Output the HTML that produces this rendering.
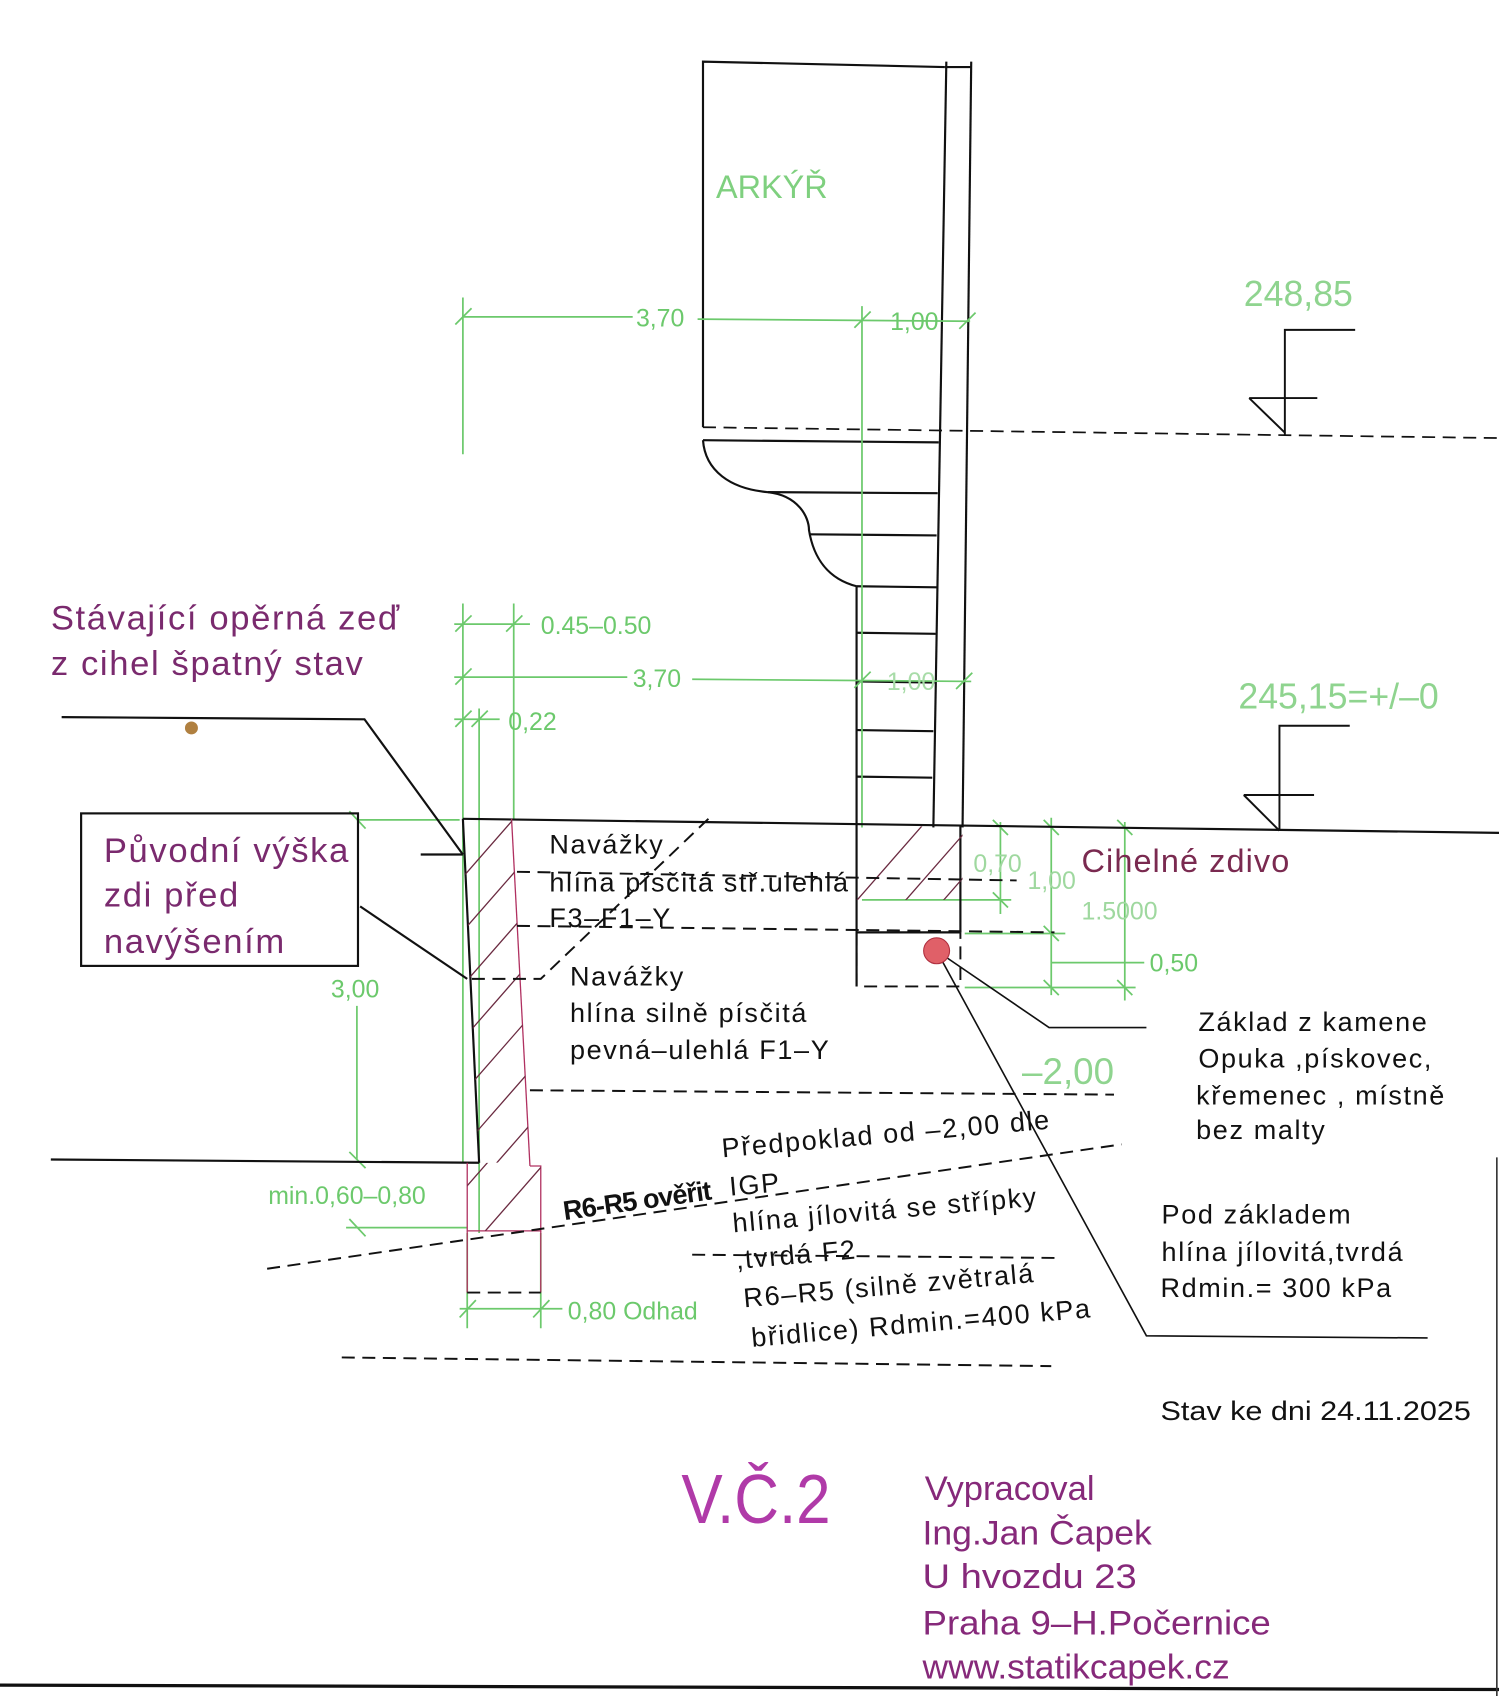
<!DOCTYPE html>
<html><head><meta charset="utf-8"><style>
html,body{margin:0;padding:0;background:#fff;}
svg{display:block;}
text{font-family:"Liberation Sans","DejaVu Sans",sans-serif;}
</style></head><body>
<svg width="1499" height="1696" viewBox="0 0 1386 1568" preserveAspectRatio="none" xmlns="http://www.w3.org/2000/svg">
<defs>
<clipPath id="wall"><polygon points="428,757 473,757 490,1075 443,1075"/></clipPath>
<clipPath id="foot"><polygon points="432,1075 443,1075 490,1075 490,1079 500,1079 500,1138 432,1138"/></clipPath>
<clipPath id="fbox"><rect x="792" y="764" width="98" height="68"/></clipPath>
</defs>
<rect width="1386" height="1568" fill="#fff"/>

<g stroke="#111" stroke-width="2" fill="none">
<polyline points="650,395 650,57 873,62"/>
<line x1="875" y1="57" x2="863" y2="765"/>
<line x1="898" y1="57" x2="890" y2="765"/>
<line x1="873" y1="62" x2="898" y2="62"/>
<line x1="650" y1="407" x2="868" y2="409"/>
<path d="M650,407 C652,435 675,452 710,455 C738,458 748,478 748,490 C752,515 765,535 792,542"/>
<line x1="710" y1="455" x2="867" y2="456"/>
<line x1="748" y1="494" x2="866" y2="495"/>
<line x1="792" y1="542" x2="866" y2="543"/>
<line x1="792" y1="585" x2="865" y2="586"/>
<line x1="792" y1="630" x2="864" y2="631"/>
<line x1="792" y1="675" x2="863" y2="676"/>
<line x1="792" y1="718" x2="862" y2="719"/>
<line x1="792" y1="542" x2="792" y2="912"/>
</g>
<line x1="650" y1="395" x2="1386" y2="405" stroke="#111" stroke-width="1.6" stroke-dasharray="12,7"/>
<text x="662" y="183" font-size="30" fill="#7fd07f">ARKÝŘ</text>

<g stroke="#6cc96c" stroke-width="1.6" fill="none">
<line x1="428" y1="275" x2="428" y2="420"/>
<line x1="428" y1="293" x2="585" y2="293"/>
<line x1="645" y1="295" x2="897" y2="297"/>
<line x1="797" y1="283" x2="797" y2="765"/>
<line x1="421" y1="300" x2="436" y2="285"/><line x1="790" y1="303" x2="805" y2="288"/><line x1="887" y1="304" x2="902" y2="289"/>
<line x1="428" y1="558" x2="428" y2="1075"/>
<line x1="475" y1="558" x2="475" y2="757"/>
<line x1="443" y1="655" x2="443" y2="1140"/>
<line x1="420" y1="577" x2="490" y2="577"/>
<line x1="420" y1="626" x2="580" y2="626"/>
<line x1="640" y1="628" x2="898" y2="630"/>
<line x1="420" y1="665" x2="462" y2="665"/>
<line x1="421" y1="584" x2="436" y2="569"/><line x1="468" y1="584" x2="483" y2="569"/>
<line x1="421" y1="633" x2="436" y2="618"/><line x1="790" y1="636" x2="805" y2="621"/><line x1="884" y1="637" x2="899" y2="622"/>
<line x1="421" y1="672" x2="436" y2="657"/><line x1="436" y1="672" x2="451" y2="657"/>
<line x1="330" y1="758" x2="425" y2="758"/>
<line x1="323" y1="750" x2="338" y2="766"/>
<line x1="330" y1="930" x2="330" y2="1072"/>
<line x1="323" y1="1065" x2="338" y2="1080"/>
<line x1="320" y1="1135" x2="432" y2="1135"/>
<line x1="323" y1="1127" x2="338" y2="1143"/>
<line x1="432" y1="1140" x2="432" y2="1228"/>
<line x1="500" y1="1140" x2="500" y2="1228"/>
<line x1="425" y1="1210" x2="520" y2="1210"/>
<line x1="425" y1="1218" x2="440" y2="1202"/><line x1="493" y1="1218" x2="508" y2="1202"/>
<line x1="925" y1="760" x2="925" y2="845"/>
<line x1="972" y1="756" x2="972" y2="920"/>
<line x1="1040" y1="760" x2="1040" y2="925"/>
<line x1="797" y1="832" x2="935" y2="832"/>
<line x1="892" y1="863" x2="985" y2="863"/>
<line x1="972" y1="890" x2="1058" y2="890"/>
<line x1="892" y1="913" x2="1050" y2="913"/>
<line x1="918" y1="758" x2="932" y2="772"/><line x1="965" y1="758" x2="979" y2="772"/><line x1="1033" y1="758" x2="1047" y2="772"/>
<line x1="918" y1="825" x2="932" y2="839"/><line x1="965" y1="856" x2="979" y2="870"/>
<line x1="965" y1="906" x2="979" y2="920"/><line x1="1033" y1="906" x2="1047" y2="920"/>
</g>
<g fill="#6cc96c">
<text x="588" y="302" font-size="23">3,70</text>
<text x="823" y="305" font-size="23">1,00</text>
<text x="500" y="586" font-size="23">0.45–0.50</text>
<text x="585" y="635" font-size="23">3,70</text>
<text x="820" y="638" font-size="23" fill="#a8dca8">1,00</text>
<text x="470" y="675" font-size="23">0,22</text>
<text x="306" y="922" font-size="23">3,00</text>
<text x="248" y="1113" font-size="23">min.0,60–0,80</text>
<text x="525" y="1220" font-size="23">0,80  Odhad</text>
<text x="900" y="806" font-size="23" fill="#9fd89f">0,70</text>
<text x="950" y="822" font-size="23" fill="#9fd89f">1,00</text>
<text x="1000" y="850" font-size="23" fill="#9fd89f">1.5000</text>
<text x="1063" y="898" font-size="23">0,50</text>
<text x="945" y="1002" font-size="34" fill="#8fd48f">–2,00</text>
<text x="1150" y="283" font-size="33" fill="#8fd48f">248,85</text>
<text x="1145" y="655" font-size="33" fill="#8fd48f">245,15=+/–0</text>
</g>

<g stroke="#111" stroke-width="1.8" fill="none">
<polyline points="1253,305 1188,305 1188,402"/>
<line x1="1155" y1="368" x2="1218" y2="368"/>
<line x1="1155" y1="368" x2="1188" y2="400"/>
<polyline points="1248,671 1183,671 1183,768"/>
<line x1="1150" y1="735" x2="1215" y2="735"/>
<line x1="1150" y1="735" x2="1183" y2="768"/>
</g>

<g stroke="#111" stroke-width="2" fill="none">
<line x1="428" y1="757" x2="1386" y2="770"/>
<line x1="428" y1="757" x2="443" y2="1075"/>
<line x1="47" y1="1072" x2="443" y2="1075"/>
<polyline points="57,663 337,665 428,790"/>
<line x1="389" y1="790" x2="428" y2="790"/>
<polyline points="333,838 432,905"/>
<line x1="888" y1="763" x2="888" y2="862"/>
<line x1="792" y1="862" x2="888" y2="862"/>
</g>
<g stroke="#b03060" stroke-width="1.2" fill="none">
<line x1="473" y1="757" x2="490" y2="1078"/>
<polyline points="490,1078 500,1078 500,1138 432,1138 432,1075"/>
<line x1="432" y1="1138" x2="432" y2="1195"/>
<line x1="500" y1="1138" x2="500" y2="1195"/>
</g>
<g stroke="#6a2a40" stroke-width="1.2" clip-path="url(#wall)">
<line x1="420" y1="820" x2="490" y2="740"/>
<line x1="420" y1="870" x2="490" y2="790"/>
<line x1="420" y1="920" x2="490" y2="840"/>
<line x1="420" y1="970" x2="490" y2="890"/>
<line x1="420" y1="1020" x2="490" y2="940"/>
<line x1="420" y1="1070" x2="490" y2="990"/>
<line x1="420" y1="1120" x2="490" y2="1040"/>
</g>
<g stroke="#6a2a40" stroke-width="1.2" clip-path="url(#foot)">
<line x1="420" y1="1110" x2="490" y2="1030"/>
<line x1="440" y1="1148" x2="510" y2="1068"/>
</g>
<g stroke="#6a2a40" stroke-width="1.2" clip-path="url(#fbox)">
<line x1="790" y1="835" x2="860" y2="755"/>
<line x1="835" y1="835" x2="905" y2="755"/>
<line x1="870" y1="835" x2="940" y2="755"/>
</g>

<g stroke="#111" stroke-width="1.8" fill="none" stroke-dasharray="12,7">
<polyline points="655,757 500,905 432,905"/>
<line x1="478" y1="806" x2="940" y2="814"/>
<line x1="478" y1="856" x2="975" y2="862"/>
<line x1="490" y1="1008" x2="1030" y2="1012"/>
<line x1="247" y1="1173" x2="1037" y2="1058"/>
<line x1="640" y1="1160" x2="975" y2="1163"/>
<line x1="316" y1="1255" x2="972" y2="1263"/>
<line x1="432" y1="1195" x2="500" y2="1195"/>
<polyline points="792,862 792,912 888,912 888,862"/>
</g>

<g stroke="#111" stroke-width="1.5" fill="none">
<polyline points="866,879 970,950 1060,950"/>
<polyline points="866,879 1060,1235 1320,1237"/>
</g>
<circle cx="866" cy="879" r="12" fill="#e06068" stroke="#b03040" stroke-width="1"/>

<g fill="#7a2a6e">
<text x="47" y="582" font-size="32" letter-spacing="1.5">Stávající  opěrná  zeď</text>
<text x="47" y="624" font-size="32" letter-spacing="1.5">z  cihel  špatný  stav</text>
<text x="96" y="797" font-size="32" letter-spacing="1.5">Původní  výška</text>
<text x="96" y="838" font-size="32" letter-spacing="1.5">zdi  před</text>
<text x="96" y="881" font-size="32" letter-spacing="1.5">navýšením</text>
<text x="1000" y="806" font-size="30" letter-spacing="1" fill="#7a2a50">Cihelné  zdivo</text>
<text x="630" y="1408" font-size="64" fill="#b03aa8" textLength="138" lengthAdjust="spacingAndGlyphs">V.Č.2</text>
<g fill="#86297a">
<text x="855" y="1387" font-size="32" textLength="157" lengthAdjust="spacingAndGlyphs">Vypracoval</text>
<text x="853" y="1428" font-size="32" textLength="212" lengthAdjust="spacingAndGlyphs">Ing.Jan  Čapek</text>
<text x="853" y="1468" font-size="32" textLength="198" lengthAdjust="spacingAndGlyphs">U  hvozdu  23</text>
<text x="853" y="1511" font-size="32" textLength="322" lengthAdjust="spacingAndGlyphs">Praha  9–H.Počernice</text>
<text x="853" y="1552" font-size="32" textLength="284" lengthAdjust="spacingAndGlyphs">www.statikcapek.cz</text>
</g>
</g>
<rect x="75" y="752" width="256" height="141" fill="none" stroke="#111" stroke-width="2"/>

<g fill="#111" font-size="25" letter-spacing="1.5">
<text x="508" y="789">Navážky</text>
<text x="508" y="824">hlína  písčitá  stř.ulehlá</text>
<text x="508" y="857">F3–F1–Y</text>
<text x="527" y="911">Navážky</text>
<text x="527" y="945">hlína  silně  písčitá</text>
<text x="527" y="979">pevná–ulehlá  F1–Y</text>
<text x="1108" y="953">Základ  z  kamene</text>
<text x="1108" y="987">Opuka  ,pískovec,</text>
<text x="1106" y="1021">křemenec  ,  místně</text>
<text x="1106" y="1053">bez  malty</text>
<text x="1074" y="1131">Pod  základem</text>
<text x="1074" y="1166">hlína  jílovitá,tvrdá</text>
<text x="1073" y="1199">Rdmin.=  300  kPa</text>
<text x="1073" y="1313" letter-spacing="0" textLength="287" lengthAdjust="spacingAndGlyphs">Stav  ke  dni  24.11.2025</text>
<g transform="rotate(-5 668 1070)">
<text x="668" y="1070">Předpoklad  od  –2,00  dle</text>
<text x="672" y="1106">IGP</text>
<text x="672" y="1140">hlína  jílovitá  se  střípky</text>
<text x="672" y="1174">,tvrdá  F2</text>
<text x="676" y="1210">R6–R5  (silně  zvětralá</text>
<text x="680" y="1247">břidlice)  Rdmin.=400  kPa</text>
</g>
<text x="522" y="1128" font-size="25" font-weight="bold" letter-spacing="-0.8" transform="rotate(-8 522 1128)">R6-R5 ověřit</text>
</g>

<line x1="0" y1="1558" x2="1386" y2="1562" stroke="#111" stroke-width="3"/>
<line x1="1384" y1="1070" x2="1384" y2="1568" stroke="#333" stroke-width="1.5"/>
<circle cx="177" cy="673" r="6" fill="#b08040"/>
</svg>
</body></html>
